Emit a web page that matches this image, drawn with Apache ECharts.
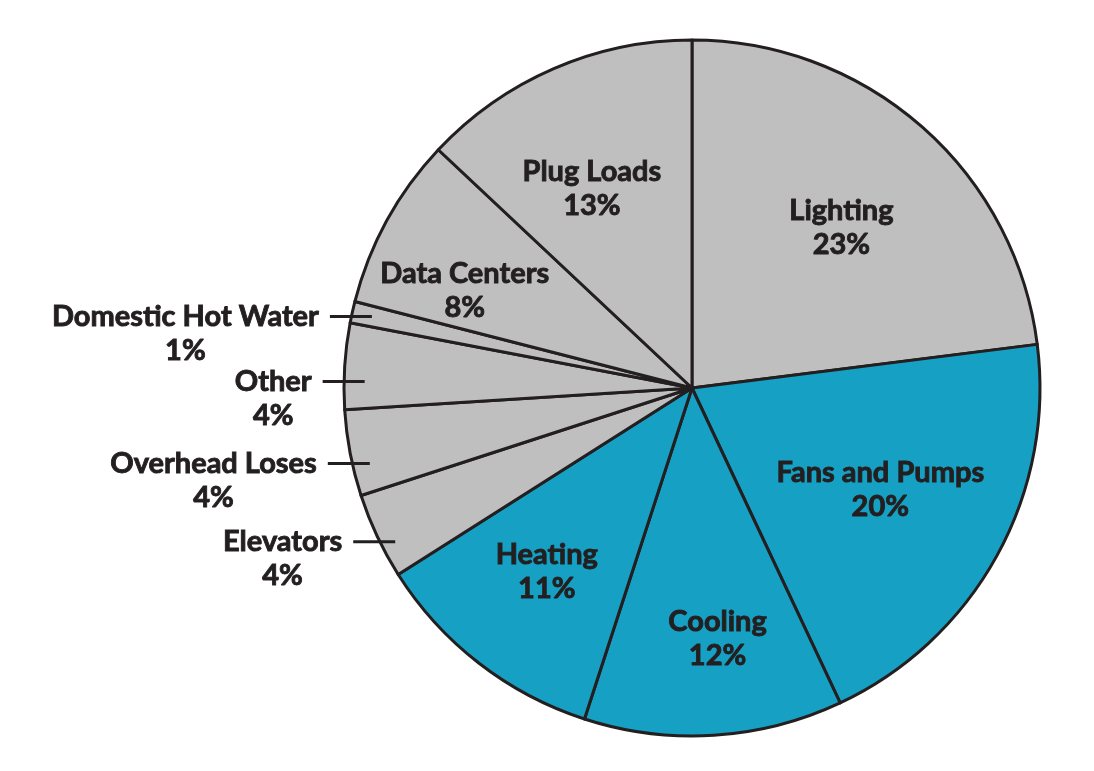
<!DOCTYPE html>
<html>
<head>
<meta charset="utf-8">
<script src="https://cdn.jsdelivr.net/npm/echarts@6/dist/echarts.min.js"></script>
<style>
html,body{margin:0;padding:0;background:#fff;}
#c{width:1094px;height:771px;}
</style>
</head>
<body>
<div id="c"></div>
<script>
const categories = ['Lighting','Fans and Pumps','Cooling','Heating','Elevators','Overhead Loses','Other','Domestic Hot Water','Data Centers','Plug Loads'];
const values = [23, 20, 12, 11, 4, 4, 4, 1, 8, 13];
const groups = ['gray','teal','teal','teal','gray','gray','gray','gray','gray','gray'];
const outsideLower = ['Elevators','Overhead Loses','Other'];
const outsideUpper = ['Domestic Hot Water'];

const colors = {gray:'#c0bfc0', teal:'#16a0c3'};
const ink = '#231f20';
const FONT = 'Lato';
const center = [692, 388];
const R = 348;

// small hand-placement nudges of the inside labels, as in the reference
const labelNudge = {
  'Lighting': [-4, 14], 'Plug Loads': [-8, 14], 'Data Centers': [-24, 14],
  'Fans and Pumps': [-15, -10], 'Cooling': [11, 19], 'Heating': [-3, 0]
};

const baseData = categories.map((c, i) => ({
  name: c, value: values[i],
  itemStyle: {color: colors[groups[i]]}
}));

const txt = {fontFamily: FONT, fontWeight: 'bold', fontSize: 29, color: ink, lineHeight: 34, align: 'center',
             textBorderColor: ink, textBorderWidth: 0.9};
const rich = {n: txt, p: txt};
const fmt = p => '{n|' + p.name + '}\n{p|' + p.value + '%}';

function outsideSeries(names, ctr) {
  return {
    type: 'pie', center: ctr, radius: [0, R - 20], startAngle: 90, clockwise: true,
    silent: true, avoidLabelOverlap: false, minShowLabelAngle: 0, z: 5,
    itemStyle: {color: 'transparent', borderWidth: 0},
    label: {position: 'outside', formatter: fmt, rich: rich, padding: [34, 0, 0, 0], distanceToLabelLine: 11},
    labelLine: {show: true, length: 0, length2: 42, smooth: false, lineStyle: {color: ink, width: 3}},
    labelLayout: {hideOverlap: false},
    data: categories.map((c, i) => {
      const show = names.indexOf(c) >= 0;
      return {name: c, value: values[i], itemStyle: {color: 'transparent'},
              label: {show: show}, labelLine: {show: show}};
    })
  };
}

const chart = echarts.init(document.getElementById('c'));
chart.setOption({
  backgroundColor: '#fff',
  animation: false,
  series: [
    {
      type: 'pie', center: center, radius: [0, R], startAngle: 90, clockwise: true,
      silent: true, z: 2,
      itemStyle: {borderColor: ink, borderWidth: 3},
      label: {show: false}, labelLine: {show: false},
      data: baseData
    },
    {
      type: 'pie', center: center, radius: [110, R], startAngle: 90, clockwise: true,
      silent: true, avoidLabelOverlap: false, z: 5,
      itemStyle: {color: 'transparent', borderWidth: 0},
      labelLine: {show: false},
      label: {position: 'inside', formatter: fmt, rich: rich},
      data: categories.map((c, i) => ({
        name: c, value: values[i],
        itemStyle: {color: 'transparent'},
        label: {show: outsideLower.indexOf(c) < 0 && outsideUpper.indexOf(c) < 0,
                offset: labelNudge[c] || [0, 0]}
      }))
    },
    outsideSeries(outsideLower, [692, 402]),
    outsideSeries(outsideUpper, center)
  ]
});
</script>
</body>
</html>
